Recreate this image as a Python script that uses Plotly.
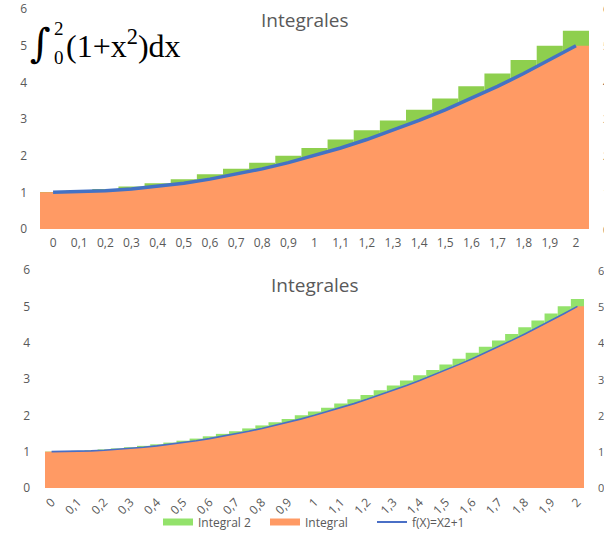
import plotly.graph_objects as go

# ---------------- data ----------------
top_x = [0, 0.1, 0.2, 0.3, 0.4, 0.5, 0.6, 0.7, 0.8, 0.9, 1,
         1.1, 1.2, 1.3, 1.4, 1.5, 1.6, 1.7, 1.8, 1.9, 2]
tick_labels = ["0", "0,1", "0,2", "0,3", "0,4", "0,5", "0,6", "0,7", "0,8", "0,9", "1",
               "1,1", "1,2", "1,3", "1,4", "1,5", "1,6", "1,7", "1,8", "1,9", "2"]
top_f = [1, 1.01, 1.04, 1.09, 1.16, 1.25, 1.36, 1.49, 1.64, 1.81, 2,
         2.21, 2.44, 2.69, 2.96, 3.25, 3.56, 3.89, 4.24, 4.61, 5]
top_upper = [1.01, 1.04, 1.09, 1.16, 1.25, 1.36, 1.49, 1.64, 1.81, 2, 2.21,
             2.44, 2.69, 2.96, 3.25, 3.56, 3.89, 4.24, 4.61, 5, 5.41]

bot_x = [0, 0.05, 0.1, 0.15, 0.2, 0.25, 0.3, 0.35, 0.4, 0.45, 0.5,
         0.55, 0.6, 0.65, 0.7, 0.75, 0.8, 0.85, 0.9, 0.95, 1,
         1.05, 1.1, 1.15, 1.2, 1.25, 1.3, 1.35, 1.4, 1.45, 1.5,
         1.55, 1.6, 1.65, 1.7, 1.75, 1.8, 1.85, 1.9, 1.95, 2]
bot_f = [1, 1.0025, 1.01, 1.0225, 1.04, 1.0625, 1.09, 1.1225, 1.16, 1.2025, 1.25,
         1.3025, 1.36, 1.4225, 1.49, 1.5625, 1.64, 1.7225, 1.81, 1.9025, 2,
         2.1025, 2.21, 2.3225, 2.44, 2.5625, 2.69, 2.8225, 2.96, 3.1025, 3.25,
         3.4025, 3.56, 3.7225, 3.89, 4.0625, 4.24, 4.4225, 4.61, 4.8025, 5]
bot_upper = [1.0025, 1.01, 1.0225, 1.04, 1.0625, 1.09, 1.1225, 1.16, 1.2025, 1.25, 1.3025,
             1.36, 1.4225, 1.49, 1.5625, 1.64, 1.7225, 1.81, 1.9025, 2, 2.1025,
             2.21, 2.3225, 2.44, 2.5625, 2.69, 2.8225, 2.96, 3.1025, 3.25, 3.4025,
             3.56, 3.7225, 3.89, 4.0625, 4.24, 4.4225, 4.61, 4.8025, 5, 5.2025]
y_ticks = [0, 1, 2, 3, 4, 5, 6]

# ---------------- styles ----------------
W, H = 604, 535
GREEN_TOP = "#8ECF4E"
GREEN_BOT = "#93E26B"
ORANGE = "#FF9A64"
BLUE = "#4472C4"
BLUE2 = "#4A6FC6"
GREY = "#595959"
FONT = "Open Sans"


def px_x(p):
    return p / W


def px_y(p):
    return 1 - p / H


def area_xy(x, y):
    step = x[1] - x[0]
    return [x[0] - step / 2] + list(x) + [x[-1] + step / 2], [y[0]] + list(y) + [y[-1]]


fig = go.Figure()

# ----- top chart -----
step_t = top_x[1] - top_x[0]
fig.add_trace(go.Bar(x=top_x, y=top_upper, width=step_t, marker=dict(color=GREEN_TOP, line=dict(width=0)),
                     xaxis="x", yaxis="y", showlegend=False, hoverinfo="skip"))
ax, ay = area_xy(top_x, top_f)
fig.add_trace(go.Scatter(x=ax, y=ay, mode="lines", line=dict(width=0, color=ORANGE), fill="tozeroy",
                         fillcolor=ORANGE, xaxis="x", yaxis="y", showlegend=False))
fig.add_trace(go.Scatter(x=top_x, y=top_f, mode="lines", line=dict(width=3.5, color=BLUE),
                         xaxis="x", yaxis="y", showlegend=False))

# ----- bottom chart -----
step_b = bot_x[1] - bot_x[0]
fig.add_trace(go.Bar(x=bot_x, y=bot_upper, width=step_b, marker=dict(color=GREEN_BOT, line=dict(width=0)),
                     xaxis="x2", yaxis="y2", showlegend=False, hoverinfo="skip"))
bx, by = area_xy(bot_x, bot_f)
fig.add_trace(go.Scatter(x=bx, y=by, mode="lines", line=dict(width=0, color=ORANGE), fill="tozeroy",
                         fillcolor=ORANGE, xaxis="x2", yaxis="y2", showlegend=False))
fig.add_trace(go.Scatter(x=bot_x, y=bot_f, mode="lines", line=dict(width=1.6, color=BLUE2),
                         xaxis="x2", yaxis="y2", showlegend=False))

# ----- legend entries -----
fig.add_trace(go.Scatter(x=[None], y=[None], mode="lines", line=dict(width=7, color=GREEN_BOT),
                         name="Integral 2", xaxis="x2", yaxis="y2"))
fig.add_trace(go.Scatter(x=[None], y=[None], mode="lines", line=dict(width=7, color=ORANGE),
                         name="Integral", xaxis="x2", yaxis="y2"))
fig.add_trace(go.Scatter(x=[None], y=[None], mode="lines", line=dict(width=2, color=BLUE2),
                         name="f(X)=X2+1", xaxis="x2", yaxis="y2"))

tickfont = dict(family=FONT, size=12, color=GREY)
common_x = dict(showgrid=False, zeroline=False, showline=False, ticks="", tickfont=tickfont,
                tickmode="array", tickvals=top_x, ticktext=tick_labels, fixedrange=True)
common_y = dict(showgrid=False, zeroline=False, showline=False, ticks="", tickfont=tickfont,
                tickmode="array", tickvals=y_ticks, range=[0, 6], fixedrange=True)

fig.update_layout(
    width=W, height=H,
    margin=dict(l=0, r=0, t=0, b=0, autoexpand=False),
    paper_bgcolor="white", plot_bgcolor="white",
    barmode="overlay",
    xaxis=dict(common_x, domain=[px_x(40), px_x(589)], range=[top_x[0] - step_t / 2, top_x[-1] + step_t / 2],
               anchor="y", tickangle=0, ticklabelstandoff=5),
    yaxis=dict(common_y, domain=[px_y(229), px_y(9)], anchor="x", ticklabelstandoff=12),
    xaxis2=dict(common_x, domain=[px_x(45), px_x(584)], range=[bot_x[0] - step_b / 2, bot_x[-1] + step_b / 2],
                anchor="y2", tickangle=-45, ticklabelstandoff=4),
    yaxis2=dict(common_y, domain=[px_y(488), px_y(270)], anchor="x2", ticklabelstandoff=14),
    showlegend=True,
    legend=dict(orientation="h", x=px_x(158), xanchor="left", y=px_y(522), yanchor="middle",
                font=dict(family=FONT, size=12, color=GREY), itemwidth=30, entrywidth=62,
                bgcolor="rgba(0,0,0,0)"),
)

annotations = [
    dict(text="Integrales", x=px_x(305), y=px_y(20), font=dict(family=FONT, size=19, color=GREY)),
    dict(text="Integrales", x=px_x(315), y=px_y(285), font=dict(family=FONT, size=19, color=GREY)),
    # formula
    dict(text="∫", x=px_x(28), y=px_y(43), xanchor="left", font=dict(family="DejaVu Serif", size=40, color="black")),
    dict(text="2", x=px_x(52), y=px_y(29), xanchor="left", font=dict(family="Liberation Serif", size=19, color="black")),
    dict(text="0", x=px_x(52), y=px_y(58), xanchor="left", font=dict(family="Liberation Serif", size=19, color="black")),
    dict(text="(1+x<sup>2</sup>)dx", x=px_x(64), y=px_y(44), xanchor="left",
         font=dict(family="Liberation Serif", size=32, color="black")),
]
# partial axis labels of a neighbouring chart at the right edge
for v in y_ticks:
    annotations.append(dict(text=str(v), x=px_x(601), y=px_y(229 - v * 36.7), xanchor="left",
                            font=dict(family=FONT, size=11, color=GREY)))
    annotations.append(dict(text=str(v), x=px_x(596), y=px_y(488 - v * 36.3), xanchor="left",
                            font=dict(family=FONT, size=11, color=GREY)))
for a in annotations:
    a.update(xref="paper", yref="paper", showarrow=False, yanchor="middle")
fig.update_layout(annotations=annotations)

fig.write_html("out.html", config={"displayModeBar": False},
               post_script="document.body.style.margin='0';")
